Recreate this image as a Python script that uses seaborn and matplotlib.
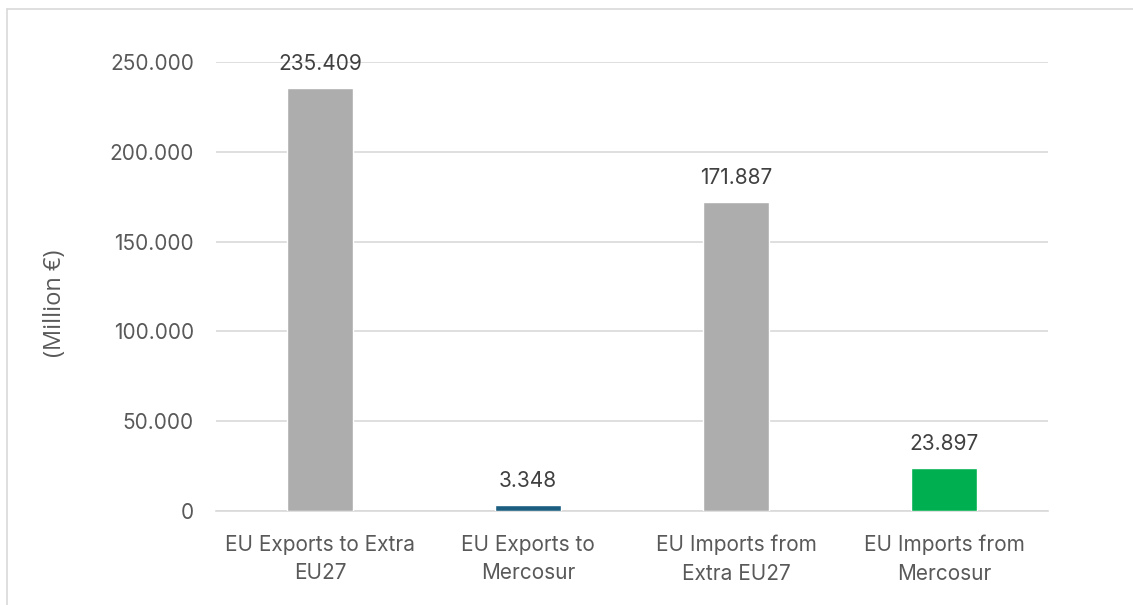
import matplotlib
matplotlib.use("Agg")
import matplotlib.pyplot as plt
from matplotlib.lines import Line2D
from matplotlib.ticker import FuncFormatter
import seaborn as sns
import pandas as pd

categories = ["EU Exports to Extra\nEU27", "EU Exports to\nMercosur",
              "EU Imports from\nExtra EU27", "EU Imports from\nMercosur"]
values = [235409, 3348, 171887, 23897]
bar_colors = ["#ADADAD", "#1B5E80", "#ADADAD", "#00B050"]
y_ticks = [0, 50000, 100000, 150000, 200000, 250000]

df = pd.DataFrame({"category": categories, "value": values})

sns.set_theme(style="white")
plt.rcParams["font.family"] = ["Inter", "DejaVu Sans"]

W, H = 1133, 605
fig = plt.figure(figsize=(W / 100, H / 100), dpi=100)
fig.patch.set_facecolor("white")

# plot area in pixel terms
left, right, top, bottom = 216, 1048, 62, 511
ax = fig.add_axes([left / W, 1 - bottom / H, (right - left) / W, (bottom - top) / H])

sns.barplot(data=df, x="category", y="value", hue="category", palette=bar_colors,
            legend=False, width=0.317, saturation=1, ax=ax, zorder=3)

ax.set_ylim(0, 250000)
ax.set_xlim(-0.5, 3.5)
ax.set_yticks(y_ticks)
ax.yaxis.set_major_formatter(FuncFormatter(lambda v, p: f"{int(v):,}".replace(",", ".")))
ax.grid(axis="y", color="#D9D9D9", linewidth=1.2, zorder=0)
ax.set_axisbelow(True)
for s in ["top", "right", "left"]:
    ax.spines[s].set_visible(False)
ax.spines["bottom"].set_color("#D9D9D9")
ax.spines["bottom"].set_linewidth(1.2)
ax.tick_params(axis="y", length=0, pad=16, labelsize=15, labelcolor="#595959")
ax.tick_params(axis="x", length=0, pad=17, labelsize=15, labelcolor="#595959")
for lbl in ax.get_xticklabels():
    lbl.set_linespacing(1.55)
ax.set_xlabel("")
ax.set_ylabel("(Million €)", fontsize=17, color="#595959", family=["Open Sans", "DejaVu Sans"],
              labelpad=0)
ax.yaxis.set_label_coords((67 - left) / (right - left), (bottom - 303) / (bottom - top))

for i, v in enumerate(values):
    ax.annotate(f"{v:,}".replace(",", "."), (i, v), xytext=(0, 10), textcoords="offset points",
                ha="center", va="bottom", fontsize=15, color="#404040", zorder=5)

# chart frame (top and left edges)
fig.add_artist(Line2D([6.5 / W, 6.5 / W], [0, 1 - 8.5 / H], transform=fig.transFigure,
                      color="#D9D9D9", linewidth=1.2))
fig.add_artist(Line2D([6.5 / W, 1], [1 - 8.5 / H, 1 - 8.5 / H], transform=fig.transFigure,
                      color="#D9D9D9", linewidth=1.2))

fig.savefig("out.png", dpi=100)
